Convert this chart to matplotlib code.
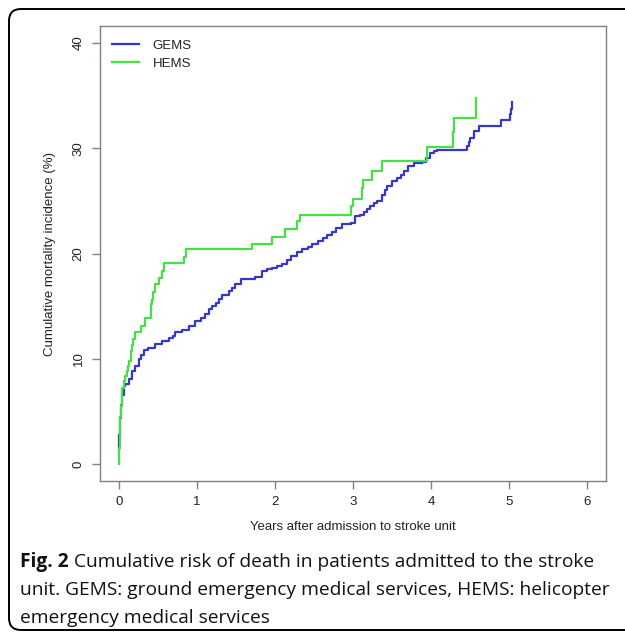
import matplotlib
matplotlib.use("Agg")
import matplotlib.pyplot as plt
from matplotlib.patches import FancyBboxPatch

# ---- data ----
gems_x = [0.0, 0.005, 0.017, 0.03, 0.047, 0.068, 0.077, 0.13, 0.17, 0.21, 0.256, 0.29, 0.32,
          0.38, 0.47, 0.55, 0.64, 0.69, 0.725, 0.81, 0.90, 0.98, 1.05, 1.10, 1.15, 1.20, 1.24,
          1.28, 1.32, 1.41, 1.45, 1.49, 1.56, 1.75, 1.83, 1.90, 1.96, 2.03, 2.09, 2.15, 2.20,
          2.28, 2.35, 2.42, 2.48, 2.55, 2.61, 2.67, 2.73, 2.78, 2.86, 2.97, 3.03, 3.09, 3.14,
          3.18, 3.22, 3.27, 3.31, 3.37, 3.41, 3.44, 3.50, 3.56, 3.61, 3.65, 3.71, 3.78, 3.88,
          3.93, 3.99, 4.04, 4.08, 4.46, 4.48, 4.50, 4.55, 4.61, 4.89, 5.01, 5.02, 5.04]
gems_y = [1.2, 2.8, 4.4, 5.6, 6.6, 7.4, 7.6, 8.1, 8.8, 9.3, 10.0, 10.4, 10.8,
          11.05, 11.37, 11.7, 11.95, 12.2, 12.5, 12.7, 13.1, 13.6, 13.9, 14.3, 14.7, 15.0, 15.3,
          15.7, 16.1, 16.4, 16.75, 17.1, 17.55, 17.77, 18.3, 18.5, 18.65, 18.8, 19.0, 19.4, 19.8,
          20.1, 20.4, 20.6, 20.9, 21.2, 21.5, 21.75, 22.0, 22.45, 22.8, 22.9, 23.55, 23.7, 23.9,
          24.2, 24.5, 24.75, 25.0, 25.6, 26.0, 26.4, 26.9, 27.2, 27.5, 27.8, 28.3, 28.6, 28.7,
          29.1, 29.5, 29.7, 29.8, 30.2, 30.6, 31.0, 31.6, 32.1, 32.65, 33.2, 33.7, 34.4]

hems_x = [0.0, 0.005, 0.01, 0.015, 0.02, 0.03, 0.04, 0.047, 0.068, 0.085, 0.10, 0.115, 0.13,
          0.154, 0.17, 0.18, 0.21, 0.29, 0.33, 0.41, 0.42, 0.44, 0.47, 0.52, 0.55, 0.58, 0.83,
          0.86, 1.71, 1.96, 2.13, 2.28, 2.32, 2.98, 3.00, 3.12, 3.13, 3.24, 3.37, 3.95, 4.28,
          4.29, 4.58]
hems_y = [0.0, 1.5, 2.5, 3.5, 4.5, 5.5, 6.5, 7.2, 7.9, 8.4, 8.8, 9.3, 9.8,
          10.7, 11.3, 11.9, 12.5, 13.1, 13.9, 15.2, 15.6, 16.3, 17.1, 17.7, 18.3, 19.1, 19.7,
          20.4, 20.9, 21.6, 22.3, 23.1, 23.7, 24.5, 25.2, 26.2, 27.0, 27.8, 28.8, 30.1, 31.5,
          32.9, 34.8]

series_names = ["GEMS", "HEMS"]
x_ticks = [0, 1, 2, 3, 4, 5, 6]
y_ticks = [0, 10, 20, 30, 40]
x_label = "Years after admission to stroke unit"
y_label = "Cumulative mortality incidence (%)"
caption_bold = "Fig. 2"
caption_lines = [" Cumulative risk of death in patients admitted to the stroke",
                 "unit. GEMS: ground emergency medical services, HEMS: helicopter",
                 "emergency medical services"]

W, H = 625, 632
fig = plt.figure(figsize=(W / 100, H / 100), dpi=100)

blue = "#3636c8"
green = "#46e046"
gray = "#808080"
txt = "#222222"
afont = ["Liberation Sans", "DejaVu Sans"]

ax = fig.add_axes([100 / W, 1 - 481 / H, 506 / W, 455 / H])
ax.step(gems_x, gems_y, where="post", color=blue, lw=1.6, label=series_names[0])
ax.step(hems_x, hems_y, where="post", color=green, lw=1.6, label=series_names[1])
ax.set_xlim(-0.24, 6.24)
ax.set_ylim(-1.6, 41.6)
ax.set_xticks(x_ticks)
ax.set_yticks(y_ticks)
ax.set_xticklabels([str(t) for t in x_ticks], family=afont, fontsize=9.5, color=txt)
ax.set_yticklabels([str(t) for t in y_ticks], family=afont, fontsize=9.5, color=txt,
                   rotation=90, va="center")
for s in ax.spines.values():
    s.set_color(gray)
    s.set_linewidth(1.0)
ax.tick_params(axis="both", color=gray, length=6, width=1.0)
ax.tick_params(axis="x", pad=5)
ax.tick_params(axis="y", pad=5)
ax.set_xlabel(x_label, family=afont, fontsize=9.5, color=txt, labelpad=9)
ax.set_ylabel(y_label, family=afont, fontsize=9.5, color=txt, labelpad=12)

leg = ax.legend(loc="upper left", frameon=False, prop={"family": afont, "size": 9.5},
                handlelength=2.05, handletextpad=1.05, borderaxespad=0.0,
                labelspacing=0.45, bbox_to_anchor=(0.013, 0.982))
for t in leg.get_texts():
    t.set_color(txt)

# outer rounded frame
frame = FancyBboxPatch((9, 2), 640, H - 11, boxstyle="round,pad=0,rounding_size=12",
                       transform=None, fill=False, edgecolor="black", lw=1.4)
fig.patches.append(frame)

# caption
cfont = ["Open Sans", "DejaVu Sans"]
cs = 13.75
renderer = fig.canvas.get_renderer()
x0 = 20 / W
ys = [1 - 562 / H, 1 - 590 / H, 1 - 618 / H]
tb = fig.text(x0, ys[0], caption_bold, family=cfont, fontsize=cs, weight="bold",
              va="center", ha="left", color="#111111")
bb = tb.get_window_extent(renderer=renderer)
fig.text(bb.x1 / W, ys[0], caption_lines[0], family=cfont, fontsize=cs, va="center",
         ha="left", color="#111111")
for i in (1, 2):
    fig.text(x0, ys[i], caption_lines[i], family=cfont, fontsize=cs, va="center",
             ha="left", color="#111111")

fig.savefig("out.png", dpi=100)
